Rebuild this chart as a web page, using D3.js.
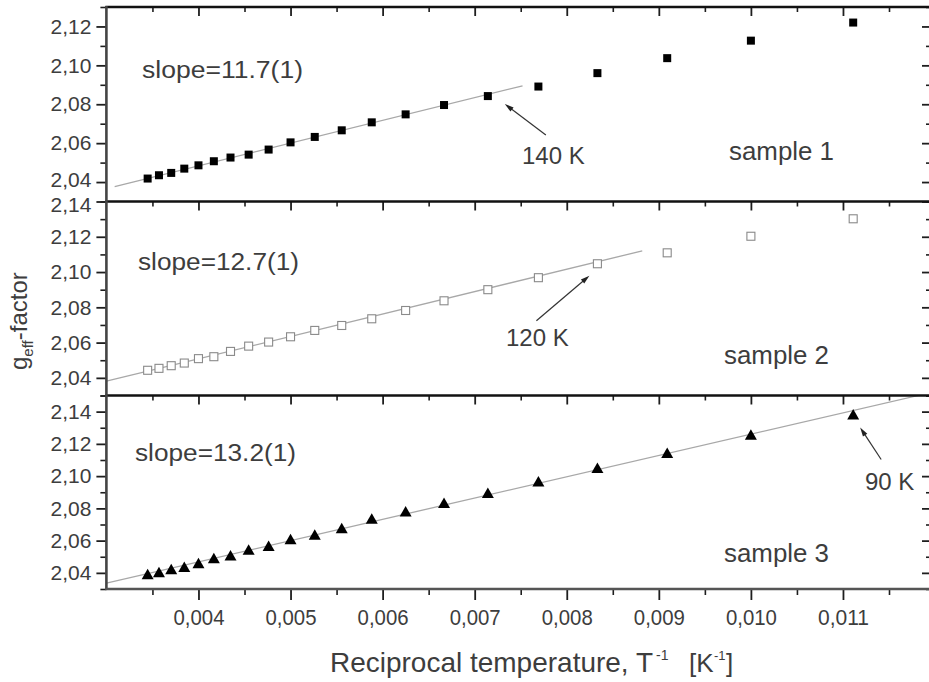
<!DOCTYPE html>
<html><head><meta charset="utf-8">
<script src="https://cdn.jsdelivr.net/npm/d3@7"></script>
<style>
body{margin:0;background:#fff}
svg{display:block}
text{font-family:"Liberation Sans",Arial,Helvetica,sans-serif}
</style>
</head><body>
<svg id="chart" width="929" height="682"></svg>
<script>
// ---------------- data ----------------
const temperatures = [290,280,270,260,250,240,230,220,210,200,190,180,170,160,150,140,130,120,110,100,90];
const reciprocalT = [0.003448,0.003571,0.003704,0.003846,0.004000,0.004167,0.004348,0.004545,0.004762,0.005000,0.005263,0.005556,0.005882,0.006250,0.006667,0.007143,0.007692,0.008333,0.009091,0.010000,0.011111];
const gSample1 = [2.0418,2.0435,2.0447,2.0469,2.0486,2.0507,2.0526,2.0541,2.0567,2.0604,2.0632,2.0666,2.0707,2.0748,2.0796,2.0842,2.0891,2.0960,2.1037,2.1127,2.1220];
const gSample2 = [2.0443,2.0454,2.0469,2.0484,2.0509,2.0520,2.0550,2.0580,2.0603,2.0633,2.0669,2.0697,2.0735,2.0782,2.0837,2.0900,2.0968,2.1047,2.1109,2.1203,2.1302];
const gSample3 = [2.0391,2.0404,2.0422,2.0437,2.0460,2.0491,2.0507,2.0544,2.0567,2.0609,2.0636,2.0677,2.0735,2.0780,2.0833,2.0895,2.0967,2.1050,2.1143,2.1257,2.1382];
const sampleNames = ["sample 1","sample 2","sample 3"];
const slopeLabels = ["slope=11.7(1)","slope=12.7(1)","slope=13.2(1)"];
const fitSlope = [11.7,12.7,13.2];
const fitIntercept = [2.0015,2.0000,1.9940];
const fitStart = [0.00309,0.00300,0.00300];
const fitEnd = [0.00752,0.00882,0.01182];
const markedTemperature = [140,120,90];
const markedLabels = ["140 K","120 K","90 K"];
const xDomain = [0.003,0.011967];
const yDomains = [[2.03,2.13],[2.03,2.14],[2.03,2.15]];
const xTickValues = [0.004,0.005,0.006,0.007,0.008,0.009,0.010,0.011];
const yTickValues = [[2.04,2.06,2.08,2.10,2.12],[2.04,2.06,2.08,2.10,2.12,2.14],[2.04,2.06,2.08,2.10,2.12,2.14]];
const xTitle = "Reciprocal temperature, T";
const yTitle = ["g","eff","-factor"];

// ---------------- layout ----------------
const svg = d3.select("#chart");
svg.append("rect").attr("width",929).attr("height",682).attr("fill","#fff");
const left = 106.4, right = 932;
const panelTop = [7,201.5,395.5], panelBottom = [201.5,395.5,589];
const series = [gSample1,gSample2,gSample3];
const textCol = "#3d3d3d";

const loc = d3.formatLocale({decimal:",",thousands:".",grouping:[3],currency:["",""]});
const fmtY = loc.format(".2f"), fmtX = loc.format(".3f");

const x = d3.scaleLinear().domain(xDomain).range([left,right]);
const xMinor = d3.range(0.0035,0.01195,0.0005).filter(v=>Math.abs(Math.round(v*1000)-v*1000)>1e-6);
const defs = svg.append("defs");

function styleAxis(g,w){
  g.select(".domain").remove();
  g.selectAll(".tick line").attr("stroke","#1e1e1e").attr("stroke-width",w);
}

for(let i=0;i<3;i++){
  const top = panelTop[i], bot = panelBottom[i];
  const y = d3.scaleLinear().domain(yDomains[i]).range([bot,top]);
  const yMinor = d3.range(0,13).map(k=>+(yDomains[i][0]+k*0.01).toFixed(2))
      .filter(v=>v<=yDomains[i][1]+1e-9 && !yTickValues[i].some(t=>Math.abs(t-v)<1e-9));

  defs.append("clipPath").attr("id","clip"+i).append("rect")
    .attr("x",left).attr("y",top).attr("width",right-left).attr("height",bot-top);

  // fit line
  const fit = [fitStart[i],fitEnd[i]].map(v=>[v,fitIntercept[i]+fitSlope[i]*v]);
  svg.append("path").attr("clip-path","url(#clip"+i+")")
    .attr("d",d3.line().x(d=>x(d[0])).y(d=>y(d[1]))(fit))
    .attr("fill","none").attr("stroke","#a8a8a8").attr("stroke-width",1.3);

  // markers
  const pts = reciprocalT.map((v,k)=>({x:v,g:series[i][k],t:temperatures[k]}));
  const gm = svg.append("g");
  if(i===0){
    gm.selectAll("rect").data(pts).join("rect")
      .attr("x",d=>x(d.x)-4).attr("y",d=>y(d.g)-4).attr("width",8).attr("height",8).attr("fill","#000");
  } else if(i===1){
    gm.selectAll("rect").data(pts).join("rect")
      .attr("x",d=>x(d.x)-4).attr("y",d=>y(d.g)-4).attr("width",8).attr("height",8)
      .attr("fill","#fff").attr("stroke","#8a8a8a").attr("stroke-width",1.1);
  } else {
    gm.selectAll("path").data(pts).join("path")
      .attr("d","M0,-5.5L6,5L-6,5Z")
      .attr("transform",d=>`translate(${x(d.x)},${y(d.g)})`).attr("fill","#000");
  }

  // left axis (outward ticks)
  const la = svg.append("g").attr("transform",`translate(${left},0)`)
    .call(d3.axisLeft(y).tickValues(yTickValues[i]).tickSize(10).tickPadding(5).tickFormat(fmtY));
  styleAxis(la,1.8);
  la.selectAll("text").attr("fill",textCol).attr("font-size",21).style("font-family",'"Liberation Sans",Arial,sans-serif');
  // keep the labels at the panel joins from colliding
  la.selectAll(".tick").filter(d=>(i===0 && Math.abs(d-2.04)<1e-9)).select("text").attr("y",-2);
  la.selectAll(".tick").filter(d=>(i===1 && Math.abs(d-2.14)<1e-9)).select("text").attr("y",3);
  const lm = svg.append("g").attr("transform",`translate(${left},0)`)
    .call(d3.axisLeft(y).tickValues(yMinor).tickSize(6).tickFormat(""));
  styleAxis(lm,1.6);

  // right axis (inward ticks)
  const ra = svg.append("g").attr("transform",`translate(${right},0)`)
    .call(d3.axisLeft(y).tickValues(yTickValues[i]).tickSize(10).tickFormat(""));
  styleAxis(ra,1.8);
  const rm = svg.append("g").attr("transform",`translate(${right},0)`)
    .call(d3.axisLeft(y).tickValues(yMinor).tickSize(6).tickFormat(""));
  styleAxis(rm,1.6);

  // top axis (inward ticks)
  const ta = svg.append("g").attr("transform",`translate(0,${top})`)
    .call(d3.axisBottom(x).tickValues(xTickValues).tickSize(9).tickFormat(""));
  styleAxis(ta,1.8);
  const tm = svg.append("g").attr("transform",`translate(0,${top})`)
    .call(d3.axisBottom(x).tickValues(xMinor).tickSize(5).tickFormat(""));
  styleAxis(tm,1.6);

  // frame lines
  svg.append("line").attr("x1",left-1).attr("x2",929).attr("y1",top).attr("y2",top)
    .attr("stroke","#111").attr("stroke-width",2.6);

  // annotations
  svg.append("text").attr("x",i===0?142:(i===1?138:135)).attr("y",[78,270,461][i])
    .attr("font-size",23).attr("fill",textCol)
    .attr("textLength",161).attr("lengthAdjust","spacingAndGlyphs").text(slopeLabels[i]);
  svg.append("text").attr("x",[729,724,724][i]).attr("y",[160,364,562][i])
    .attr("font-size",25).attr("fill",textCol)
    .attr("textLength",105).attr("lengthAdjust","spacingAndGlyphs").text(sampleNames[i]);

  const k = temperatures.indexOf(markedTemperature[i]);
  const px = x(reciprocalT[k]), py = y(series[i][k]);
  const tip = [[17,8],[-8,12],[7,13]][i], tail = [[58,39],[-61,57],[28,45]][i];
  const x1 = px+tail[0], y1 = py+tail[1], x2 = px+tip[0], y2 = py+tip[1];
  const ang = Math.atan2(y2-y1,x2-x1);
  svg.append("line").attr("x1",x1).attr("y1",y1)
    .attr("x2",x2-7*Math.cos(ang)).attr("y2",y2-7*Math.sin(ang))
    .attr("stroke","#333").attr("stroke-width",1.2);
  svg.append("path")
    .attr("d","M0,0L-9,-2.6L-9,2.6Z")
    .attr("transform",`translate(${x2},${y2}) rotate(${ang*180/Math.PI})`).attr("fill","#222");
  svg.append("text").attr("x",[522,506,865][i]).attr("y",[164,346,490][i])
    .attr("font-size",24).attr("fill",textCol).text(markedLabels[i]);
}

// left frame line
svg.append("line").attr("x1",left).attr("x2",left).attr("y1",panelTop[0]-1).attr("y2",panelBottom[2]+1)
  .attr("stroke","#444").attr("stroke-width",2.6);
svg.append("line").attr("x1",right).attr("x2",right).attr("y1",panelTop[0]).attr("y2",panelBottom[2])
  .attr("stroke","#444").attr("stroke-width",2.6);

// bottom axis (outward ticks, labels)
const ba = svg.append("g").attr("transform",`translate(0,${panelBottom[2]})`)
  .call(d3.axisBottom(x).tickValues(xTickValues).tickSize(11).tickPadding(9).tickFormat(fmtX));
styleAxis(ba,1.8);
ba.selectAll("text").attr("fill",textCol).attr("font-size",22.5)
  .attr("textLength",51).attr("lengthAdjust","spacingAndGlyphs");
const bm = svg.append("g").attr("transform",`translate(0,${panelBottom[2]})`)
  .call(d3.axisBottom(x).tickValues(xMinor).tickSize(6).tickFormat(""));
styleAxis(bm,1.6);
svg.append("line").attr("x1",left-1).attr("x2",929).attr("y1",panelBottom[2]).attr("y2",panelBottom[2])
  .attr("stroke","#555").attr("stroke-width",2.6);

// x title
svg.append("text").attr("x",330).attr("y",672).attr("font-size",28).attr("fill",textCol)
  .attr("textLength",323).attr("lengthAdjust","spacingAndGlyphs").text(xTitle);
svg.append("text").attr("x",656).attr("y",660).attr("font-size",14).attr("fill",textCol).text("-1");
svg.append("text").attr("x",689).attr("y",672).attr("font-size",26).attr("fill",textCol).text("[K");
svg.append("text").attr("x",714).attr("y",660).attr("font-size",13).attr("fill",textCol).text("-1");
svg.append("text").attr("x",726).attr("y",672).attr("font-size",26).attr("fill",textCol).text("]");

// y title
const yt = svg.append("text").attr("transform","translate(27,370) rotate(-90)")
  .attr("font-size",24).attr("fill",textCol);
yt.append("tspan").text(yTitle[0]);
yt.append("tspan").attr("font-size",15).attr("dy",6).text(yTitle[1]);
yt.append("tspan").attr("dy",-6).text(yTitle[2]);
</script>
</body></html>
